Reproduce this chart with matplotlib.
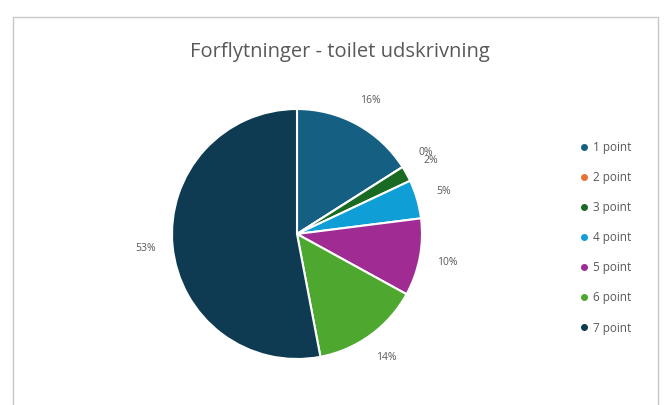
import matplotlib
matplotlib.use("Agg")
import matplotlib.pyplot as plt
from matplotlib.lines import Line2D
from matplotlib.patches import Rectangle

title = "Forflytninger - toilet udskrivning"
categories = ["1 point", "2 point", "3 point", "4 point", "5 point", "6 point", "7 point"]
shares = [16, 0, 2, 5, 10, 14, 53]
colors = ["#156082", "#E97132", "#196B24", "#0F9ED5", "#A02B93", "#4EA72E", "#0E3B52"]

plt.rcParams["font.family"] = ["Open Sans", "DejaVu Sans"]
text_grey = "#595959"

W, H = 665, 405
fig = plt.figure(figsize=(W / 100, H / 100), dpi=100)
fig.patch.set_facecolor("white")

# chart frame (bottom edge is cut off in the reference)
fig.add_artist(Rectangle((13 / W, -0.05), (658 - 13) / W, (H - 17) / H + 0.05,
                         transform=fig.transFigure, fill=False,
                         edgecolor="#c8c8c8", linewidth=1.0))

cx, cy, r = 297, 234, 125
ax = fig.add_axes([(cx - r) / W, (H - cy - r) / H, 2 * r / W, 2 * r / H])
wedges, _, autotexts = ax.pie(
    shares, colors=colors, startangle=90, counterclock=False,
    autopct="%1.0f%%", pctdistance=1.22,
    wedgeprops=dict(edgecolor="white", linewidth=1.5),
    textprops=dict(color=text_grey, fontsize=7.5),
)
ax.set_xlim(-1, 1)
ax.set_ylim(-1, 1)
ax.set_aspect("auto")
for t in autotexts:
    t.set_clip_on(False)

fig.text(340 / W, 1 - 52 / H, title, ha="center", va="center",
         fontsize=14.5, color=text_grey)

handles = [Line2D([], [], linestyle="none", marker="o", markersize=4,
                  markerfacecolor=c, markeredgecolor=c) for c in colors]
fig.legend(handles, categories, loc="upper left",
           bbox_to_anchor=(575 / W, 1 - 135 / H), frameon=False,
           fontsize=8.5, labelcolor=text_grey, handlelength=0.6,
           handletextpad=0.4, labelspacing=1.45, borderpad=0)

fig.savefig("out.png", dpi=100)
